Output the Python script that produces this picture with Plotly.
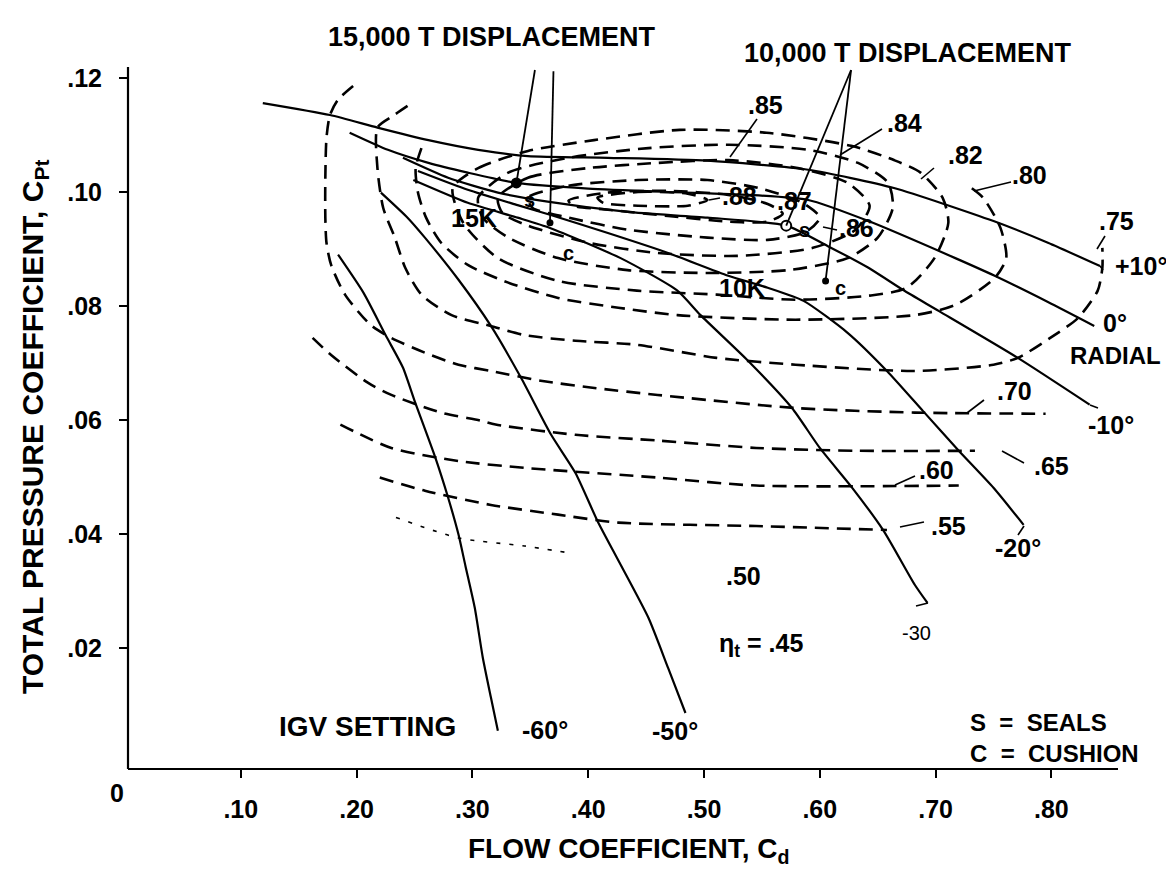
import plotly.graph_objects as go

# ---------------- IGV setting lines (flow coeff Cd, total pressure coeff Cpt) ----------------
igv_p10_cd = [0.119, 0.177, 0.218, 0.262, 0.305, 0.348, 0.417, 0.503, 0.590, 0.664, 0.750, 0.797, 0.842]
igv_p10_cp = [0.1156, 0.1135, 0.1113, 0.1091, 0.1074, 0.1063, 0.1060, 0.1055, 0.1039, 0.1007, 0.0949, 0.0911, 0.0870]

igv_0_cd = [0.194, 0.227, 0.262, 0.296, 0.338, 0.400, 0.469, 0.538, 0.590, 0.642, 0.717, 0.751, 0.797, 0.837]
igv_0_cp = [0.1104, 0.1074, 0.1051, 0.1034, 0.1016, 0.1006, 0.1000, 0.0995, 0.0986, 0.0949, 0.0884, 0.0853, 0.0807, 0.0765]

igv_m10_cd = [0.240, 0.279, 0.322, 0.365, 0.434, 0.503, 0.571, 0.607, 0.642, 0.672, 0.703, 0.771, 0.833]
igv_m10_cp = [0.1060, 0.1025, 0.0999, 0.0983, 0.0965, 0.0955, 0.0941, 0.0905, 0.0867, 0.0828, 0.0791, 0.0709, 0.0627]

igv_m20_cd = [0.253, 0.296, 0.339, 0.367, 0.417, 0.469, 0.521, 0.555, 0.586, 0.624, 0.658, 0.689, 0.720, 0.750, 0.776]
igv_m20_cp = [0.1037, 0.1004, 0.0977, 0.0960, 0.0928, 0.0893, 0.0853, 0.0832, 0.0809, 0.0753, 0.0686, 0.0616, 0.0546, 0.0481, 0.0416]

igv_m30_cd = [0.249, 0.296, 0.339, 0.367, 0.428, 0.477, 0.497, 0.538, 0.576, 0.600, 0.628, 0.655, 0.682, 0.693]
igv_m30_cp = [0.1021, 0.0981, 0.0955, 0.0937, 0.0884, 0.0827, 0.0784, 0.0704, 0.0621, 0.0551, 0.0481, 0.0406, 0.0311, 0.0279]

igv_m50_cd = [0.221, 0.244, 0.259, 0.288, 0.316, 0.342, 0.368, 0.389, 0.408, 0.427, 0.452, 0.469, 0.484]
igv_m50_cp = [0.0999, 0.0955, 0.0920, 0.0846, 0.0765, 0.0674, 0.0574, 0.0507, 0.0423, 0.0350, 0.0253, 0.0165, 0.0086]

igv_m60_cd = [0.184, 0.206, 0.225, 0.240, 0.250, 0.268, 0.279, 0.288, 0.294, 0.302, 0.309, 0.316, 0.322]
igv_m60_cp = [0.0890, 0.0823, 0.0749, 0.0692, 0.0634, 0.0534, 0.0464, 0.0399, 0.0344, 0.0271, 0.0183, 0.0113, 0.0055]

# ---------------- efficiency contours (eta_t) ----------------
eff_70_cd = [0.197, 0.184, 0.177, 0.174, 0.173, 0.173, 0.174, 0.178, 0.190, 0.212, 0.230, 0.259, 0.288, 0.316, 0.359, 0.402, 0.460, 0.579, 0.682, 0.795]
eff_70_cp = [0.1186, 0.1162, 0.1135, 0.1095, 0.1025, 0.0955, 0.0911, 0.0872, 0.0820, 0.0767, 0.0744, 0.0718, 0.0697, 0.0686, 0.0669, 0.0657, 0.0644, 0.0621, 0.0613, 0.0611]

eff_75_cd = [0.244, 0.231, 0.218, 0.218, 0.223, 0.233, 0.242, 0.256, 0.282, 0.316, 0.345, 0.389, 0.442, 0.511, 0.579, 0.682, 0.750, 0.771, 0.799, 0.823, 0.840, 0.844, 0.844]
eff_75_cp = [0.1151, 0.1133, 0.1113, 0.1042, 0.0972, 0.0920, 0.0867, 0.0820, 0.0784, 0.0765, 0.0749, 0.0739, 0.0732, 0.0709, 0.0697, 0.0686, 0.0697, 0.0709, 0.0744, 0.0779, 0.0827, 0.0867, 0.0902]

eff_80_cd = [0.256, 0.251, 0.253, 0.260, 0.273, 0.296, 0.331, 0.374, 0.426, 0.477, 0.579, 0.682, 0.717, 0.751, 0.761, 0.756, 0.741, 0.731]
eff_80_cp = [0.1077, 0.1042, 0.0999, 0.0955, 0.0911, 0.0872, 0.0841, 0.0814, 0.0797, 0.0784, 0.0776, 0.0784, 0.0802, 0.0849, 0.0884, 0.0937, 0.0990, 0.1007]

eff_82_cd = [0.283, 0.305, 0.348, 0.405, 0.479, 0.554, 0.627, 0.664, 0.687, 0.706, 0.711, 0.699, 0.675, 0.642, 0.579, 0.511, 0.442, 0.374, 0.322, 0.292, 0.283]
eff_82_cp = [0.1007, 0.1042, 0.1072, 0.1091, 0.1109, 0.1104, 0.1081, 0.1056, 0.1034, 0.0990, 0.0946, 0.0884, 0.0832, 0.0818, 0.0811, 0.0820, 0.0827, 0.0844, 0.0884, 0.0946, 0.1007]

eff_84_cd = [0.305, 0.331, 0.383, 0.452, 0.521, 0.590, 0.633, 0.659, 0.663, 0.650, 0.624, 0.573, 0.503, 0.434, 0.374, 0.331, 0.309, 0.305]
eff_84_cp = [0.0990, 0.1034, 0.1060, 0.1077, 0.1083, 0.1074, 0.1051, 0.1016, 0.0972, 0.0920, 0.0884, 0.0863, 0.0858, 0.0863, 0.0884, 0.0920, 0.0955, 0.0990]

eff_85_cd = [0.322, 0.348, 0.400, 0.460, 0.521, 0.581, 0.624, 0.643, 0.631, 0.594, 0.529, 0.460, 0.400, 0.348, 0.326, 0.322]
eff_85_cp = [0.0990, 0.1025, 0.1042, 0.1051, 0.1056, 0.1042, 0.1016, 0.0976, 0.0934, 0.0902, 0.0888, 0.0893, 0.0911, 0.0941, 0.0963, 0.0990]

eff_86_cd = [0.348, 0.383, 0.443, 0.503, 0.547, 0.585, 0.600, 0.588, 0.555, 0.503, 0.434, 0.383, 0.352, 0.348]
eff_86_cp = [0.0990, 0.1011, 0.1021, 0.1021, 0.1007, 0.0981, 0.0955, 0.0930, 0.0916, 0.0920, 0.0934, 0.0955, 0.0972, 0.0990]

eff_87_cd = [0.383, 0.417, 0.469, 0.521, 0.555, 0.568, 0.555, 0.521, 0.469, 0.417, 0.387, 0.383]
eff_87_cp = [0.0985, 0.0999, 0.1002, 0.0995, 0.0979, 0.0962, 0.0948, 0.0948, 0.0958, 0.0969, 0.0976, 0.0985]

eff_88_cd = [0.408, 0.443, 0.486, 0.503, 0.486, 0.443, 0.413, 0.408]
eff_88_cp = [0.0990, 0.1000, 0.0997, 0.0986, 0.0976, 0.0976, 0.0981, 0.0990]

eff_65_cd = [0.162, 0.178, 0.210, 0.230, 0.273, 0.307, 0.320, 0.389, 0.460, 0.545, 0.633, 0.734]
eff_65_cp = [0.0744, 0.0714, 0.0665, 0.0644, 0.0613, 0.0599, 0.0592, 0.0574, 0.0564, 0.0551, 0.0546, 0.0546]

eff_60_cd = [0.186, 0.230, 0.288, 0.345, 0.460, 0.545, 0.720]
eff_60_cp = [0.0592, 0.0551, 0.0528, 0.0516, 0.0499, 0.0485, 0.0485]

eff_55_cd = [0.220, 0.259, 0.316, 0.374, 0.426, 0.545, 0.658]
eff_55_cp = [0.0499, 0.0476, 0.0451, 0.0434, 0.0420, 0.0414, 0.0407]

eff_50_cd = [0.234, 0.288, 0.345, 0.383]
eff_50_cp = [0.0429, 0.0393, 0.0379, 0.0367]

# ---------------- operating points ----------------
seal_15k = (0.338, 0.1016)
cushion_15k = (0.367, 0.0946)
seal_10k = (0.571, 0.0941)
cushion_10k = (0.605, 0.0844)

x_ticks = [0.10, 0.20, 0.30, 0.40, 0.50, 0.60, 0.70, 0.80]
x_tick_text = [".10", ".20", ".30", ".40", ".50", ".60", ".70", ".80"]
y_ticks = [0.02, 0.04, 0.06, 0.08, 0.10, 0.12]
y_tick_text = [".02", ".04", ".06", ".08", ".10", ".12"]

# ---------------- geometry ----------------
W, H = 1174, 872
PL, PR, PT, PB = 120, 1174, 40, 761          # plot area in px
X0PX, XSCALE = 117, 1158                     # px of Cd = 0, px per unit Cd
Y0PX, YSCALE = 754, 5700                     # px of Cpt = 0, px per unit Cpt
FONT = "Liberation Sans, Arial, sans-serif"


def paper(px, py):
    return (px - PL) / (PR - PL), (PB - py) / (PB - PT)


fig = go.Figure()


def add_curve(xs, ys, dash=None, width=2.0, smoothing=0.7):
    fig.add_trace(go.Scatter(
        x=xs, y=ys, mode="lines",
        line=dict(color="black", width=width, dash=dash, shape="spline", smoothing=smoothing),
        hoverinfo="skip", showlegend=False))


DASH = "14px,8px"
for xs, ys in [(eff_70_cd, eff_70_cp), (eff_75_cd, eff_75_cp), (eff_80_cd, eff_80_cp),
               (eff_82_cd, eff_82_cp), (eff_84_cd, eff_84_cp), (eff_85_cd, eff_85_cp),
               (eff_86_cd, eff_86_cp), (eff_87_cd, eff_87_cp), (eff_88_cd, eff_88_cp),
               (eff_65_cd, eff_65_cp), (eff_60_cd, eff_60_cp), (eff_55_cd, eff_55_cp)]:
    add_curve(xs, ys, dash=DASH, width=2.6)
add_curve(eff_50_cd, eff_50_cp, dash="4px,9px", width=1.6)

for xs, ys in [(igv_p10_cd, igv_p10_cp), (igv_0_cd, igv_0_cp), (igv_m10_cd, igv_m10_cp),
               (igv_m20_cd, igv_m20_cp), (igv_m30_cd, igv_m30_cp), (igv_m50_cd, igv_m50_cp),
               (igv_m60_cd, igv_m60_cp)]:
    add_curve(xs, ys, width=2.2, smoothing=0.6)

# operating points
fig.add_trace(go.Scatter(x=[seal_15k[0]], y=[seal_15k[1]], mode="markers",
                         marker=dict(color="black", size=11), hoverinfo="skip", showlegend=False))
fig.add_trace(go.Scatter(x=[cushion_15k[0], cushion_10k[0]], y=[cushion_15k[1], cushion_10k[1]], mode="markers",
                         marker=dict(color="black", size=7), hoverinfo="skip", showlegend=False))
fig.add_trace(go.Scatter(x=[seal_10k[0]], y=[seal_10k[1]], mode="markers",
                         marker=dict(color="white", size=10, line=dict(color="black", width=2)),
                         hoverinfo="skip", showlegend=False))

annotations = []


def text(t, px, py, size=25, xanchor="center", angle=0, weight="bold", yanchor="middle"):
    x, y = paper(px, py)
    annotations.append(dict(text=t, x=x, y=y, xref="paper", yref="paper", showarrow=False,
                            xanchor=xanchor, yanchor=yanchor, textangle=angle,
                            font=dict(family=FONT, size=size, color="black", weight=weight)))


text("15,000 T DISPLACEMENT", 484, 29, 27)
text("10,000 T DISPLACEMENT", 900, 45, 27)
text(".85", 757, 97)
text(".84", 896, 115)
text(".82", 957, 147)
text(".80", 1021, 167)
text(".75", 1108, 213)
text("+10°", 1133, 258)
text(".88", 731, 188)
text(".87", 786, 193)
text(".86", 848, 220)
text("s", 521, 192, 20)
text("15K", 466, 210)
text("c", 560, 245, 20)
text("s", 796, 222, 20)
text("c", 832, 280, 20)
text("10K", 734, 280)
text("0°", 1107, 315)
text("RADIAL", 1107, 347, 24)
text(".70", 1006, 383)
text("-10°", 1103, 417)
text(".65", 1043, 458)
text(".60", 928, 462)
text(".55", 940, 518)
text("-20°", 1010, 540)
text(".50", 735, 568)
text("-30", 908, 625, 20, weight="normal")
text("η<sub>t</sub> = .45", 753, 637)
text("IGV SETTING", 359, 718, 28)
text("-60°", 537, 722)
text("-50°", 667, 723)
text("S  =  SEALS", 960, 730, 24, xanchor="left", yanchor="bottom")
text("C  =  CUSHION", 960, 730, 24, xanchor="left", yanchor="top")
text("0", 109, 785, 25)
text("FLOW COEFFICIENT, C<sub>d</sub>", 621, 842, 28)
text("TOTAL PRESSURE COEFFICIENT, C<sub>Pt</sub>", 26, 419, 30, angle=-90)

# axis lines, leader lines from the displacement titles, and label leaders
ytop = paper(0, 59)[1]
xend = paper(1110, 0)[0]
shapes = [
    dict(type="line", xref="paper", yref="paper", x0=0, x1=0, y0=0, y1=ytop,
         line=dict(color="black", width=2.2)),
    dict(type="line", xref="paper", yref="paper", x0=0, x1=xend, y0=0, y1=0,
         line=dict(color="black", width=2.2)),
]
for head, tail in [(seal_15k, (0.354, 0.1214)), (cushion_15k, (0.370, 0.1212)),
                   (seal_10k, (0.627, 0.1214)), (cushion_10k, (0.627, 0.1214))]:
    shapes.append(dict(type="line", xref="x", yref="y", x0=tail[0], y0=tail[1], x1=head[0], y1=head[1],
                       line=dict(color="black", width=1.8)))

label_leaders = [  # (from px, to px) short hooks joining a label to its curve
    ((749, 111), (722, 149)), ((874, 121), (832, 147)), ((926, 160), (913, 171)),
    ((1003, 174), (966, 183)), ((1097, 228), (1089, 241)), ((712, 190), (701, 192)),
    ((829, 222), (815, 219)), ((976, 392), (959, 405)), ((1016, 455), (994, 443)),
    ((907, 468), (887, 477)), ((916, 514), (892, 519)), ((1010, 527), (1016, 518)),
    ((1090, 400), (1082, 397)), ((908, 598), (920, 595)), ((1095, 262), (1092, 258)),
]
for (ax_, ay_), (bx_, by_) in label_leaders:
    x0, y0 = paper(ax_, ay_)
    x1, y1 = paper(bx_, by_)
    shapes.append(dict(type="line", xref="paper", yref="paper", x0=x0, y0=y0, x1=x1, y1=y1,
                       line=dict(color="black", width=1.6)))

fig.update_layout(
    width=W, height=H, autosize=False,
    margin=dict(l=PL, r=W - PR, t=PT, b=H - PB, pad=0),
    paper_bgcolor="white", plot_bgcolor="white",
    showlegend=False, hovermode=False,
    annotations=annotations, shapes=shapes,
    xaxis=dict(range=[(PL - X0PX) / XSCALE, (PR - X0PX) / XSCALE], showgrid=False, zeroline=False,
               showline=False, ticks="outside", ticklen=8, tickwidth=2, tickcolor="black",
               tickvals=x_ticks, ticktext=x_tick_text, ticklabelstandoff=10,
               tickfont=dict(family=FONT, size=25, color="black", weight="bold")),
    yaxis=dict(range=[(Y0PX - PB) / YSCALE, (Y0PX - PT) / YSCALE], showgrid=False, zeroline=False,
               showline=False, ticks="outside", ticklen=8, tickwidth=2, tickcolor="black",
               tickvals=y_ticks, ticktext=y_tick_text, ticklabelstandoff=12,
               tickfont=dict(family=FONT, size=25, color="black", weight="bold")),
)

fig.write_html("out.html")
